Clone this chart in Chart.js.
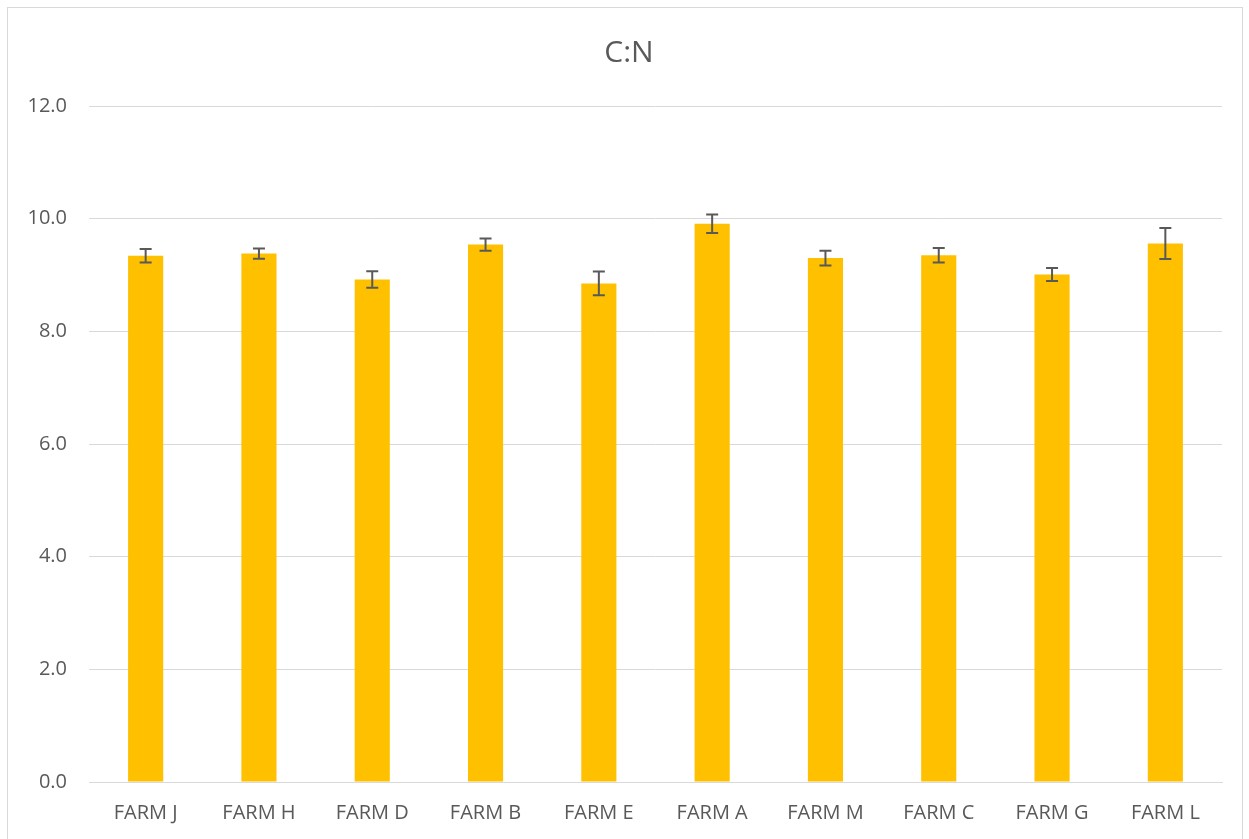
<!DOCTYPE html>
<html>
<head>
<meta charset="utf-8">
<script src="https://cdn.jsdelivr.net/npm/chart.js@4"></script>
<style>
  html, body { margin: 0; padding: 0; background: #fff; overflow: hidden; }
  #wrap { position: absolute; left: 0; top: 0; width: 1249px; height: 839px; }
  #frame { position: absolute; left: 7px; top: 7px; width: 1234px; height: 850px; border: 1px solid #d9d9d9; pointer-events: none; }
</style>
</head>
<body>
<div id="wrap">
  <canvas id="mycanvas" width="1249" height="839"></canvas>
  <div id="frame"></div>
</div>
<script>
var farms = ['FARM J', 'FARM H', 'FARM D', 'FARM B', 'FARM E', 'FARM A', 'FARM M', 'FARM C', 'FARM G', 'FARM L'];
var cnRatio = [9.34, 9.38, 8.92, 9.54, 8.85, 9.91, 9.30, 9.35, 9.01, 9.56];
var cnError = [0.12, 0.09, 0.145, 0.11, 0.21, 0.165, 0.13, 0.13, 0.115, 0.275];

var textColor = '#595959';
var gridColor = '#d9d9d9';

// error bars drawn on top of the bars
var errorBars = {
	id: 'errorBars',
	afterDatasetsDraw: function(chart){
		var ctx = chart.ctx;
		var y = chart.scales.y;
		var meta = chart.getDatasetMeta(0);
		ctx.save();
		ctx.strokeStyle = textColor;
		ctx.lineWidth = 2;
		for (var i = 0; i < meta.data.length; i++){
			var x = meta.data[i].x;
			var top = y.getPixelForValue(cnRatio[i] + cnError[i]);
			var bot = y.getPixelForValue(cnRatio[i] - cnError[i]);
			ctx.beginPath();
			ctx.moveTo(x, top); ctx.lineTo(x, bot);
			ctx.moveTo(x - 6, top); ctx.lineTo(x + 6, top);
			ctx.moveTo(x - 6, bot); ctx.lineTo(x + 6, bot);
			ctx.stroke();
		}
		ctx.restore();
	}
};

var ctx = document.getElementById('mycanvas');
var barGraph = new Chart(ctx, {
	type: 'bar',
	data: {
		labels: farms,
		datasets: [{
			label: 'C:N',
			data: cnRatio,
			backgroundColor: '#FFC000',
			borderWidth: 0,
			barPercentage: 0.31,
			categoryPercentage: 1
		}]
	},
	options: {
		responsive: false,
		animation: false,
		layout: { padding: { left: 9, right: 0, top: 0, bottom: 0 } },
		plugins: {
			legend: { display: false },
			tooltip: { enabled: false },
			title: {
				display: true,
				text: 'C:N',
				color: textColor,
				font: { family: 'Open Sans', size: 30, weight: 'normal' },
				padding: { top: 35, bottom: 35 }
			}
		},
		scales: {
			x: {
				grid: { display: false },
				border: { color: gridColor, width: 1 },
				ticks: {
					color: textColor,
					font: { family: 'Open Sans', size: 20 },
					padding: 11,
					maxRotation: 0
				},
				afterFit: function(s){ s.height = 57; }
			},
			y: {
				min: 0,
				max: 12,
				grid: { color: gridColor, lineWidth: 1, drawTicks: false },
				border: { display: false },
				ticks: {
					stepSize: 2,
					color: textColor,
					font: { family: 'Open Sans', size: 20 },
					padding: 22,
					callback: function(v){ return v.toFixed(1); }
				},
				afterFit: function(s){ s.width = 80; }
			},
			// empty right-hand spacer
			y2: {
				position: 'right',
				min: 0,
				max: 12,
				grid: { display: false },
				border: { display: false },
				ticks: { display: false },
				afterFit: function(s){ s.width = 27; }
			}
		}
	},
	plugins: [errorBars]
});
</script>
</body>
</html>
